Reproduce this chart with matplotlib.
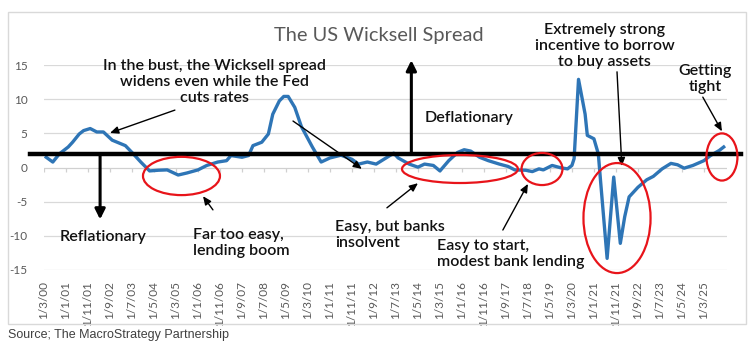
import matplotlib
matplotlib.use("Agg")
import matplotlib.pyplot as plt
from matplotlib.patches import Ellipse, Rectangle

# ---------------- data ----------------
dates = ["2000-04", "2000-07", "2000-10", "2001-02", "2001-04", "2001-07", "2001-09", "2001-12",
         "2002-03", "2002-06", "2002-10", "2003-04", "2003-07", "2003-11", "2004-03", "2004-07",
         "2004-11", "2005-04", "2005-08", "2006-01", "2006-05", "2006-10", "2007-02", "2007-04",
         "2007-09", "2007-12", "2008-02", "2008-06", "2008-09", "2008-11", "2009-02", "2009-04",
         "2009-06", "2009-09", "2009-12", "2010-05", "2010-09", "2011-01", "2011-06", "2011-11",
         "2012-02", "2012-06", "2012-10", "2013-02", "2013-06", "2013-08", "2014-01", "2014-05",
         "2014-08", "2014-12", "2015-03", "2015-07", "2015-11", "2016-02", "2016-05", "2016-09",
         "2017-01", "2017-06", "2017-10", "2018-01", "2018-06", "2018-09", "2018-12", "2019-02",
         "2019-06", "2019-10", "2020-01", "2020-03", "2020-04", "2020-06", "2020-09", "2020-10",
         "2021-01", "2021-03", "2021-04", "2021-07", "2021-10", "2022-01", "2022-03", "2022-05",
         "2022-09", "2023-01", "2023-04", "2023-08", "2023-12", "2024-03", "2024-06", "2024-10",
         "2025-03", "2025-06", "2025-10", "2025-12"]
spread = [1.5, 0.8, 2.0, 3.0, 3.7, 4.9, 5.4, 5.7,
          5.2, 5.2, 4.0, 3.2, 2.2, 0.8, -0.5, -0.4,
          -0.35, -1.1, -0.8, -0.35, 0.3, 0.8, 1.0, 1.75,
          1.5, 1.75, 3.2, 3.7, 4.9, 7.8, 9.75, 10.4,
          10.4, 8.8, 6.0, 3.0, 0.8, 1.4, 1.8, 1.2,
          0.5, 0.8, 0.5, 1.3, 2.1, 1.4, 0.5, 0.05,
          0.5, 0.3, -0.5, 1.0, 2.2, 2.6, 2.4, 1.5,
          1.0, 0.5, 0.15, -0.35, -0.4, -0.6, -0.2, -0.35,
          0.3, -0.05, -0.2, 0.3, 1.3, 12.9, 7.8, 4.7,
          4.2, 2.0, -1.9, -13.3, -1.4, -11.1, -7.2, -4.3,
          -2.9, -1.8, -1.3, -0.2, 0.6, 0.4, -0.1, 0.3,
          1.0, 1.75, 2.5, 3.0]
tick_labels = ["1/3/00", "1/1/01", "1/11/01", "1/9/02", "1/7/03", "1/5/04", "1/3/05", "1/1/06",
               "1/11/06", "1/9/07", "1/7/08", "1/5/09", "1/3/10", "1/1/11", "1/11/11", "1/9/12",
               "1/7/13", "1/5/14", "1/3/15", "1/1/16", "1/11/16", "1/9/17", "1/7/18", "1/5/19",
               "1/3/20", "1/1/21", "1/11/21", "1/9/22", "1/7/23", "1/5/24", "1/3/25"]
neutral_level = 2.0


def month_index(s):
    y, m = s.split("-")
    return (int(y) - 2000) * 12 + (int(m) - 3)


def label_index(lbl):
    d, m, y = lbl.split("/")
    return int(y) * 12 + (int(m) - 3)


x = [month_index(d) for d in dates]
tick_pos = [label_index(l) for l in tick_labels]

FONT = ["Lato", "DejaVu Sans"]
GRAY = "#595959"

fig = plt.figure(figsize=(7.52, 3.5), dpi=100)
ax = fig.add_axes([44 / 752, 80 / 350, 683 / 752, 205 / 350])

# chart border
fig.patches.append(Rectangle((8 / 752, 26 / 350), 738 / 752, 312 / 350, transform=fig.transFigure,
                             fill=False, edgecolor="#d9d9d9", linewidth=1.0))

ax.set_xlim(0, 310.5)
ax.set_ylim(-15, 15)
for s in ax.spines.values():
    s.set_visible(False)

ax.set_yticks([-15, -10, -5, 0, 5, 10, 15])
ax.set_yticklabels(["-15", "-10", "-5", "0", "5", "10", "15"], fontsize=8.5, color=GRAY, family=FONT)
for g in [-15, -10, -5, 5, 10, 15]:
    ax.axhline(g, color="#d9d9d9", linewidth=0.9, zorder=0)
ax.axhline(0, color="#d0d0d0", linewidth=0.9, zorder=0)
ax.vlines(tick_pos, -0.6, 0, color="#d0d0d0", linewidth=0.9, zorder=0)
ax.tick_params(axis="y", length=0, pad=12)
ax.set_xticks(tick_pos)
ax.set_xticklabels(tick_labels, rotation=90, fontsize=8.5, color=GRAY, family=FONT)
ax.tick_params(axis="x", length=0, pad=8)

# series
ax.plot(x, spread, color="#2E75B6", linewidth=2.4, zorder=3, solid_joinstyle="round")

# neutral thick line
ax.plot([-0.02, 1.02], [neutral_level, neutral_level], transform=ax.get_yaxis_transform(),
        color="black", linewidth=3.2, clip_on=False, zorder=4)

# vertical arrows
big = dict(arrowstyle="-|>,head_length=0.6,head_width=0.3", color="black", linewidth=2.2,
           shrinkA=0, shrinkB=0)
ax.annotate("", xy=(25.5, -7.6), xytext=(25.5, neutral_level), arrowprops=big, annotation_clip=False)
ax.annotate("", xy=(167, 15.7), xytext=(167, neutral_level), arrowprops=big, annotation_clip=False)

# ellipses
for (cx, cy, w, h) in [(62.5, -1.24, 35, 5.6), (189.1, -0.22, 52.7, 4.1), (226.4, -0.22, 18.6, 4.7),
                       (260.5, -7.4, 30.5, 16.1), (308.2, 1.54, 14.1, 6.9)]:
    e = Ellipse((cx, cy), w, h, fill=False, edgecolor="#E8141A", linewidth=1.6, clip_on=False, zorder=5)
    ax.add_patch(e)

thin = dict(arrowstyle="-|>,head_length=0.5,head_width=0.22", color="black", linewidth=1.0,
            shrinkA=0, shrinkB=0)
tkw = dict(fontsize=11.5, color="#111111", family=FONT, linespacing=1.18, fontweight="semibold")

ax.text(77.7, 12.5, "In the bust, the Wicksell spread\nwidens even while the Fed\ncuts rates",
        ha="center", va="center", **tkw)
ax.annotate("", xy=(30, 5.05), xytext=(59.5, 8.4), arrowprops=thin)
ax.annotate("", xy=(144.5, -0.2), xytext=(113.2, 6.8), arrowprops=thin)
ax.text(173.2, 7.2, "Deflationary", ha="left", va="center", **tkw)
ax.text(255, 17.8, "Extremely strong\nincentive to borrow\nto buy assets", ha="center", va="center",
        **tkw)
ax.annotate("", xy=(262.7, 0.2), xytext=(260.5, 14.0), arrowprops=thin, annotation_clip=False)
ax.text(300.5, 12.96, "Getting\ntight", ha="center", va="center", **tkw)
ax.annotate("", xy=(308.2, 5.3), xytext=(299.5, 10.3), arrowprops=thin, annotation_clip=False)
ax.text(7.3, -10.2, "Reflationary", ha="left", va="center", **tkw)
ax.text(67.7, -11.05, "Far too easy,\nlending boom", ha="left", va="center", **tkw)
ax.annotate("", xy=(72.3, -4.2), xytext=(76.8, -6.2), arrowprops=thin)
ax.text(132.3, -9.9, "Easy, but banks\ninsolvent", ha="left", va="center", **tkw)
ax.annotate("", xy=(170, -2.3), xytext=(155.9, -5.9), arrowprops=thin)
ax.text(178.6, -12.7, "Easy to start,\nmodest bank lending", ha="left", va="center", **tkw)
ax.annotate("", xy=(220, -2.4), xytext=(208.6, -9.15), arrowprops=thin)

fig.text(379 / 752, 1 - 35 / 350, "The US Wicksell Spread", ha="center", va="center", fontsize=14.4,
         color=GRAY, family=FONT)
fig.text(8 / 752, 1 - 335 / 350, "Source; The MacroStrategy Partnership", ha="left", va="center",
         fontsize=9, color="#404040", family=["Liberation Sans", "DejaVu Sans"])

fig.savefig("out.png", dpi=100)
